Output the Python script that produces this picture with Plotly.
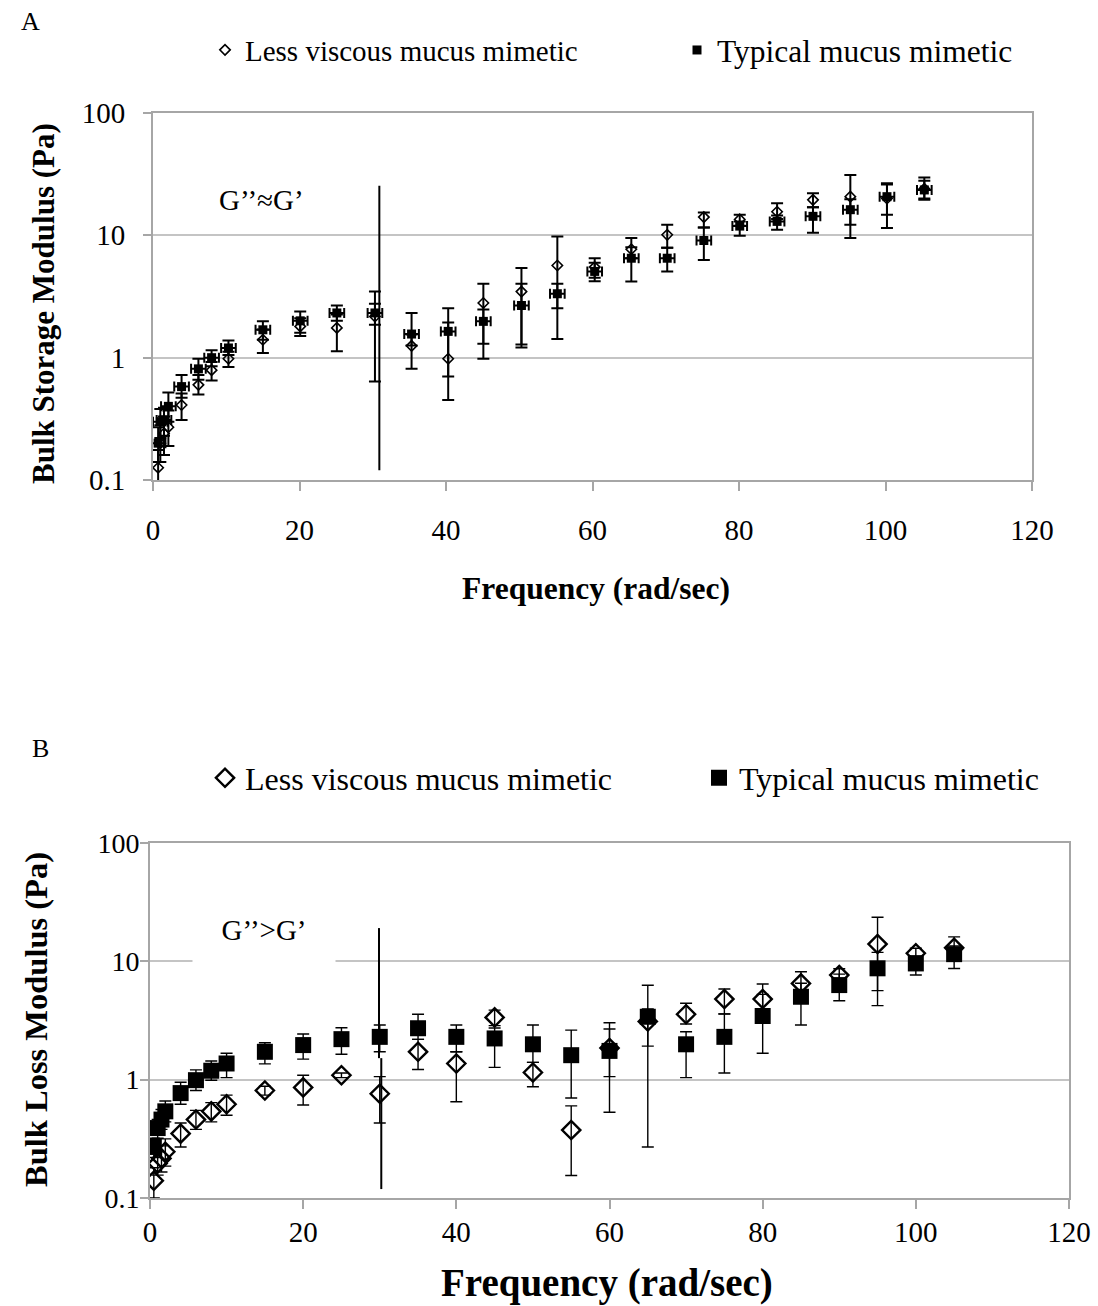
import plotly.graph_objects as go

# ---------------- DATA ----------------
freq_A = [0.7, 1.0, 1.5, 2.1, 3.9, 6.2, 8.0, 10.3, 15.0, 20.1, 25.1, 30.3, 35.3, 40.3, 45.1,
          50.3, 55.2, 60.3, 65.3, 70.2, 75.2, 80.1, 85.2, 90.1, 95.2, 100.2, 105.3]
freq_B = [0.5, 1, 1.5, 2, 4, 6, 8, 10, 15, 20, 25, 30, 35, 40, 45, 50, 55, 60, 65, 70,
          75, 80, 85, 90, 95, 100, 105]

# Panel A - bulk storage modulus G' (Pa)
less_A = [0.126, 0.20, 0.24, 0.27, 0.41, 0.60, 0.79, 0.98, 1.40, 1.80, 1.75, 2.17, 1.25, 0.98, 2.80,
          3.47, 5.67, 5.50, 7.70, 10.1, 14.1, 13.5, 15.6, 19.5, 20.7, 20.0, 24.0]
less_A_plus = [0.05, 0.08, 0.09, 0.10, 0.10, 0.12, 0.13, 0.14, 0.30, 0.30, 0.50, 1.30, 0.30, 1.56, 1.22,
               1.93, 4.10, 1.00, 1.80, 2.10, 1.30, 1.20, 2.70, 2.60, 10.5, 6.0, 4.0]
less_A_minus = [0.03, 0.06, 0.08, 0.08, 0.10, 0.10, 0.14, 0.14, 0.31, 0.30, 0.62, 1.53, 0.44, 0.53, 1.82,
                2.26, 4.25, 1.00, 1.20, 2.20, 2.50, 1.50, 2.00, 2.50, 8.5, 8.5, 4.0]
typ_A = [0.20, 0.30, 0.31, 0.40, 0.58, 0.81, 1.00, 1.20, 1.69, 2.00, 2.32, 2.32, 1.56, 1.64, 1.98,
         2.67, 3.33, 5.07, 6.50, 6.50, 9.07, 11.9, 13.0, 14.3, 16.2, 20.7, 23.5]
typ_A_plus = [0.07, 0.08, 0.08, 0.12, 0.14, 0.17, 0.15, 0.18, 0.29, 0.39, 0.35, 0.44, 0.76, 0.30, 0.50,
              1.35, 0.69, 0.90, 1.50, 1.40, 2.50, 1.10, 1.50, 2.70, 3.50, 6.0, 6.2]
typ_A_minus = [0.06, 0.08, 0.08, 0.10, 0.11, 0.15, 0.15, 0.15, 0.29, 0.40, 0.32, 0.46, 0.30, 0.94, 0.68,
               1.39, 0.79, 0.85, 2.30, 1.43, 2.77, 2.00, 1.90, 3.80, 6.70, 6.0, 4.0]
freq_err_A = 1.0

# Panel B - bulk loss modulus G'' (Pa)
less_B = [0.14, 0.196, 0.216, 0.246, 0.35, 0.46, 0.54, 0.62, 0.81, 0.86, 1.09, 0.76, 1.72, 1.37, 3.36,
          1.15, 0.375, 1.85, 3.10, 3.57, 4.80, 4.80, 6.51, 7.66, 14.0, 11.7, 13.0]
less_B_plus = [0.04, 0.05, 0.06, 0.07, 0.08, 0.09, 0.10, 0.12, 0.07, 0.23, 0.05, 0.30, 0.47, 0.35, 0.51,
               0.25, 0.225, 1.18, 0.85, 0.85, 1.03, 1.63, 1.66, 1.00, 9.6, 1.2, 3.1]
less_B_minus = [0.04, 0.04, 0.05, 0.06, 0.08, 0.08, 0.10, 0.12, 0.07, 0.25, 0.05, 0.33, 0.50, 0.72, 0.50,
                0.28, 0.22, 1.32, 2.83, 0.62, 1.21, 1.20, 1.50, 1.30, 9.78, 1.5, 2.0]
typ_B = [0.27, 0.39, 0.46, 0.54, 0.77, 0.99, 1.19, 1.37, 1.72, 1.96, 2.20, 2.30, 2.72, 2.30, 2.23,
         1.99, 1.61, 1.75, 3.40, 1.99, 2.30, 3.45, 5.02, 6.30, 8.73, 9.60, 11.5]
typ_B_plus = [0.05, 0.07, 0.10, 0.12, 0.18, 0.22, 0.25, 0.30, 0.33, 0.47, 0.55, 0.60, 0.85, 0.60, 0.50,
              0.91, 1.01, 0.93, 2.87, 0.55, 1.30, 1.81, 1.50, 1.50, 3.17, 1.5, 2.0]
typ_B_minus = [0.05, 0.07, 0.08, 0.10, 0.15, 0.18, 0.20, 0.33, 0.36, 0.47, 0.56, 0.58, 0.53, 0.58, 0.96,
               0.59, 0.91, 0.69, 1.48, 0.95, 1.16, 1.78, 2.12, 1.65, 3.08, 1.94, 2.8]

y_ticks = [0.1, 1, 10, 100]
y_ticktext = ["0.1", "1", "10", "100"]
x_ticks = [0, 20, 40, 60, 80, 100, 120]

# regime divider lines (x, y0, y1)
divider_A = [(30.9, 0.12, 25.4)]
divider_B = [(29.9, 1.52, 19.1), (30.2, 0.119, 1.52)]

name_less = "Less viscous mucus mimetic"
name_typ = "Typical mucus mimetic"

# ---------------- FIGURE ----------------
W, H = 1098, 1306
SERIF = "Liberation Serif, Times New Roman, serif"
AX = "#a6a6a6"
GRID = "#c4c4c4"

fig = go.Figure()

# Panel A
fig.add_trace(go.Scatter(
    x=freq_A, y=less_A, mode="markers", name=name_less, legend="legend", showlegend=True,
    marker=dict(symbol="diamond-open", size=8, color="black", line=dict(width=1.6, color="black")),
    error_y=dict(type="data", array=less_A_plus, arrayminus=less_A_minus, color="black",
                 thickness=2, width=6),
    xaxis="x", yaxis="y"))
fig.add_trace(go.Scatter(
    x=freq_A, y=typ_A, mode="markers", name=name_typ, legend="legend2", showlegend=True,
    marker=dict(symbol="square", size=9, color="black"),
    error_y=dict(type="data", array=typ_A_plus, arrayminus=typ_A_minus, color="black",
                 thickness=2, width=6),
    error_x=dict(type="constant", value=freq_err_A, color="black", thickness=2, width=5),
    xaxis="x", yaxis="y"))

# Panel B
fig.add_trace(go.Scatter(
    x=freq_B, y=less_B, mode="markers", name=name_less, legend="legend3", showlegend=True,
    marker=dict(symbol="diamond-open", size=14, color="black", line=dict(width=2.4, color="black")),
    error_y=dict(type="data", array=less_B_plus, arrayminus=less_B_minus, color="black",
                 thickness=1.4, width=6),
    xaxis="x2", yaxis="y2"))
fig.add_trace(go.Scatter(
    x=freq_B, y=typ_B, mode="markers", name=name_typ, legend="legend4", showlegend=True,
    marker=dict(symbol="square", size=16, color="black"),
    error_y=dict(type="data", array=typ_B_plus, arrayminus=typ_B_minus, color="black",
                 thickness=1.4, width=6),
    xaxis="x2", yaxis="y2"))

def px_x(p):
    return p / W

def px_y(p):
    return 1 - p / H

tickfont = dict(family=SERIF, size=29, color="black")

xcommon = dict(range=[0, 120], tickvals=x_ticks, ticks="outside", ticklen=9, tickcolor=AX,
               tickwidth=1.5, showline=True, linecolor=AX, linewidth=2, mirror=True,
               showgrid=False, zeroline=False, tickfont=tickfont)
ycommon = dict(type="log", range=[-1, 2], tickvals=y_ticks, ticktext=y_ticktext, ticks="outside",
               ticklen=8, tickcolor=AX, tickwidth=1.5, showline=True, linecolor=AX, linewidth=2,
               mirror=True, showgrid=True, gridcolor=GRID, gridwidth=1.5, zeroline=False,
               tickfont=tickfont)

def legend_at(xpix, ypix, size):
    return dict(x=px_x(xpix), y=px_y(ypix), xanchor="left", yanchor="middle",
                bgcolor="rgba(0,0,0,0)", borderwidth=0,
                font=dict(family=SERIF, size=size, color="black"))

fig.update_layout(
    width=W, height=H, margin=dict(l=0, r=0, t=0, b=0, autoexpand=False),
    paper_bgcolor="white", plot_bgcolor="white", showlegend=True,
    font=dict(family=SERIF, color="black"),
    xaxis=dict(xcommon, domain=[px_x(153), px_x(1032)], anchor="y", ticklabelstandoff=14),
    yaxis=dict(ycommon, domain=[px_y(480), px_y(113)], anchor="x", ticklabelstandoff=12),
    xaxis2=dict(xcommon, domain=[px_x(150), px_x(1069)], anchor="y2", ticklabelstandoff=-2),
    yaxis2=dict(ycommon, domain=[px_y(1198), px_y(843)], anchor="x2", ticklabelstandoff=-5,
                tickfont=dict(family=SERIF, size=28, color="black")),
    legend=legend_at(205, 50, 29),
    legend2=legend_at(677, 50, 31.5),
    legend3=legend_at(205, 778, 32),
    legend4=legend_at(699, 778, 32),
)

shapes = []
for (xv, y0, y1) in divider_A:
    shapes.append(dict(type="line", xref="x", yref="y", x0=xv, x1=xv, y0=y0, y1=y1,
                       line=dict(color="black", width=2)))
for (xv, y0, y1) in divider_B:
    shapes.append(dict(type="line", xref="x2", yref="y2", x0=xv, x1=xv, y0=y0, y1=y1,
                       line=dict(color="black", width=2)))
fig.update_layout(shapes=shapes)

def note(text, xpix, ypix, size, **kw):
    d = dict(text=text, x=px_x(xpix), y=px_y(ypix), xref="paper", yref="paper",
             xanchor="center", yanchor="middle", showarrow=False,
             font=dict(family=SERIF, size=size, color="black"))
    d.update(kw)
    return d

ann = [
    note("A", 30, 22, 26),
    note("B", 40, 748, 26),
    note("G\u2019\u2019\u2248G\u2019", 261, 200, 29),
    note("G\u2019\u2019>G\u2019", 264, 930, 29, bgcolor="white", width=140, height=66),
    note("<b>Bulk Storage Modulus (Pa)</b>", 43, 304, 31, textangle=-90),
    note("<b>Frequency (rad/sec)</b>", 596, 588, 31.5),
    note("<b>Bulk Loss Modulus (Pa)</b>", 36, 1020, 32.5, textangle=-90),
    note("<b>Frequency (rad/sec)</b>", 607, 1283, 39),
]
fig.update_layout(annotations=ann)

fig.write_html("out.html")
